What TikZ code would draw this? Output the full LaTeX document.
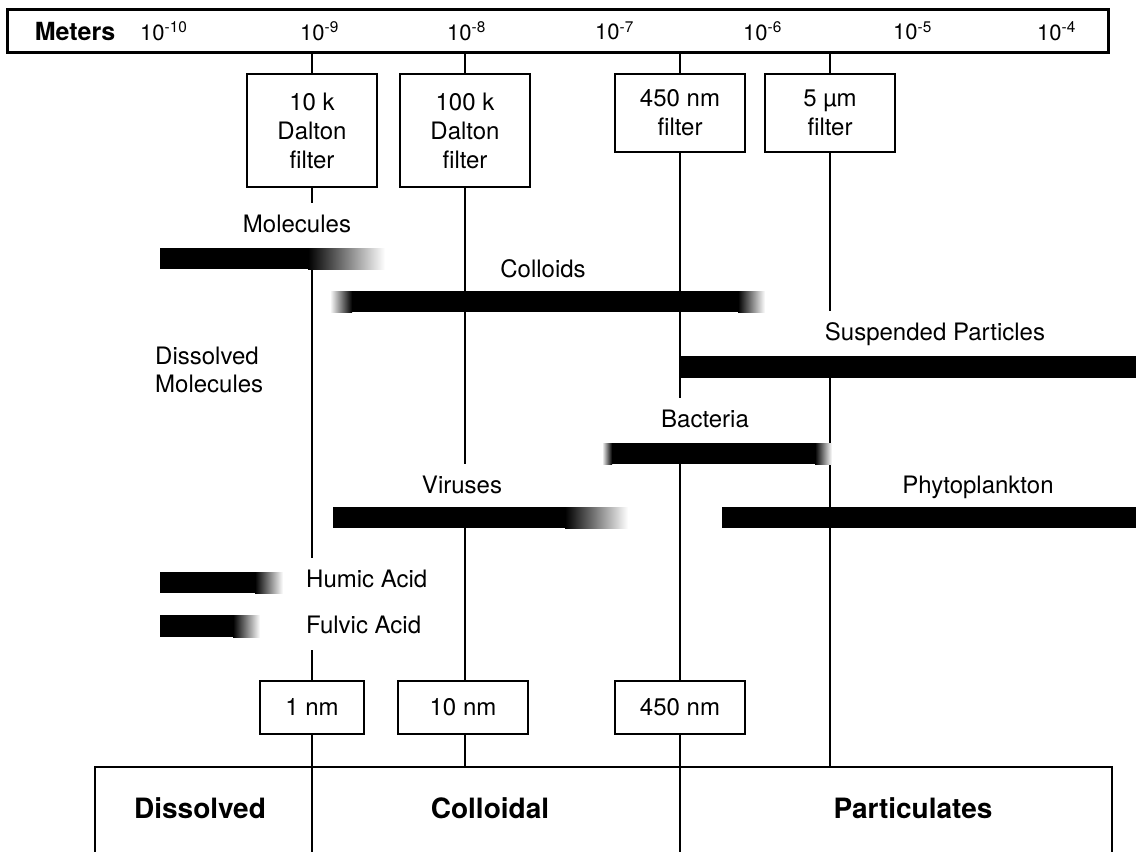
\documentclass[tikz,border=0pt]{standalone}
\usepackage{fontspec}
\setmainfont{TeX Gyre Heros}
\usetikzlibrary{positioning, backgrounds}

\begin{document}
\begin{tikzpicture}[
    x=1pt, y=-1pt,
    box/.style={draw, line width=2pt, fill=white, align=center, inner sep=0pt, font=\fontsize{24}{29}\selectfont},
    lbl/.style={fill=white, inner sep=4pt, minimum height=46pt, text height=18pt, text depth=5pt, font=\fontsize{24}{28}\selectfont},
    tick/.style={anchor=west, inner sep=0pt, font=\fontsize{22}{26}\selectfont},
    cls/.style={font=\fontsize{28}{32}\selectfont\bfseries},
    rule/.style={line width=2pt}
]
\useasboundingbox (0,0) rectangle (1136,852);

% scale bar
\node[draw, line width=3pt, minimum width=1101pt, minimum height=43pt, inner sep=0pt] (scale) at (557.5,30.5) {};
\node[font=\fontsize{25}{30}\selectfont\bfseries, inner sep=0pt] (meters) at (75,31) {Meters};
\foreach \x/\e [count=\i] in {140/-10, 300/-9, 447/-8, 595/-7, 743/-6, 893/-5, 1037/-4}
    \node[tick] (t\i) at (\x,31) {10\textsuperscript{\e}};

% filters
\node[box, minimum width=130pt, minimum height=113pt] (f10k) at (312,130.5) {10 k\\Dalton\\filter};
\node[box, minimum width=130pt, minimum height=113pt, right=21pt of f10k] (f100k) {100 k\\Dalton\\filter};
\node[box, minimum width=130pt, minimum height=78pt] (f450) at (680,113) {450 nm\\filter};
\node[box, minimum width=130pt, minimum height=78pt] (f5um) at (830,113) {5 µm\\filter};

% cut-off sizes
\node[box, minimum width=104pt, minimum height=53pt] (nm1) at (312,707) {1 nm};
\node[box, minimum width=130pt, minimum height=53pt] (nm10) at (463,707) {10 nm};
\node[box, minimum width=130pt, minimum height=53pt] (nm450) at (680,707) {450 nm};

% fractions
\node[draw, line width=2pt, minimum width=1017pt, minimum height=103pt, inner sep=0pt] (classes) at (603.5,818.5) {};
\node[cls] (dissolved) at (200,808) {Dissolved};
\node[cls] (colloidal) at (490,808) {Colloidal};
\node[cls] (particulates) at (913,808) {Particulates};

\begin{pgfonlayer}{background}
\draw[rule] (scale.south -| f10k) -- (classes.south -| f10k);
\draw[rule] (scale.south -| f100k) -- (classes.north -| f100k);
\draw[rule] (scale.south -| f450) -- (classes.south -| f450);
\draw[rule] (scale.south -| f5um) -- (classes.north -| f5um);
\end{pgfonlayer}

% labels
\node[lbl] (molecules) at (297,226) {Molecules};
\node[lbl] (colloids) at (543,271) {Colloids};
\node[lbl] (suspended) at (935,334) {Suspended Particles};
\node[lbl, anchor=west, align=left, text height=, text depth=, minimum height=0pt, font=\fontsize{24}{28}\selectfont] (dissmol) at (151,370) {Dissolved\\Molecules};
\node[lbl] (bacteria) at (705,421) {Bacteria};
\node[lbl] (viruses) at (462,487) {Viruses};
\node[lbl] (phyto) at (978,487) {Phytoplankton};
\node[lbl, anchor=west] (humic) at (302,581) {Humic Acid};
\node[lbl, anchor=west] (fulvic) at (302,627) {Fulvic Acid};

% size ranges
\fill (160,248) rectangle (308,269);
\shade[left color=black, right color=white] (308,248) rectangle (385,269);
\shade[left color=white, right color=black] (330,291) rectangle (352,312);
\fill (352,291) rectangle (738,312);
\shade[left color=black, right color=white] (738,291) rectangle (765,312);
\fill (680,356) rectangle (1140,378);
\shade[left color=white, right color=black] (602,443) rectangle (612,464);
\fill (612,443) rectangle (815,464);
\shade[left color=black, right color=white] (815,443) rectangle (832,464);
\fill (333,507) rectangle (565,528);
\shade[left color=black, right color=white] (565,507) rectangle (628,528);
\fill (722,507) rectangle (1140,528);
\fill (160,572) rectangle (255,593);
\shade[left color=black, right color=white] (255,572) rectangle (283,593);
\fill (160,615) rectangle (233,637);
\shade[left color=black, right color=white] (233,615) rectangle (260,637);
\end{tikzpicture}
\end{document}
